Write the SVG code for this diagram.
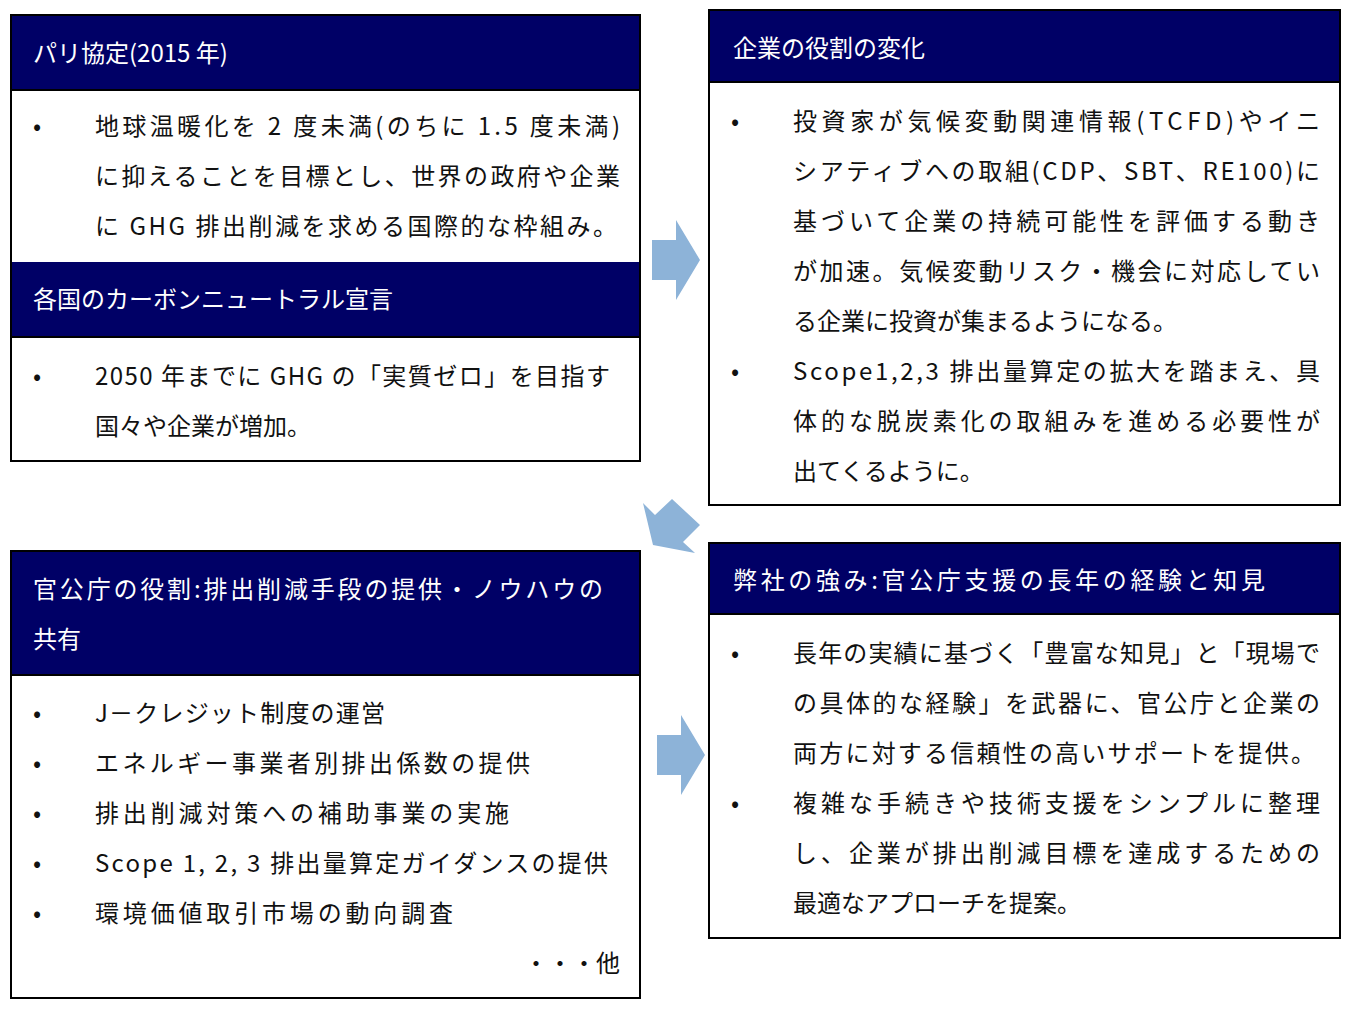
<svg xmlns="http://www.w3.org/2000/svg" width="1349" height="1021" viewBox="0 0 1349 1021">
<style>
.box{fill:#fff;stroke:#000;stroke-width:2}
.hd{fill:#000066}
.sep{stroke:#000;stroke-width:2}
text{font-family:"Noto Sans CJK JP","Noto Sans",sans-serif;font-size:24px;fill:#111}
.ht{fill:#fff}
.arr{fill:#8db3d8}
</style>
<rect width="1349" height="1021" fill="#fff"/>
<g id="paris">
<rect class="box" x="11" y="15" width="629" height="446"/>
<rect class="hd" x="12" y="16" width="627" height="74"/>
<text class="ht" x="33" y="62">パリ協定(2015 年)</text>
<line class="sep" x1="11" y1="90" x2="640" y2="90"/>
<text x="33" y="135">•</text>
<text x="95" y="135" textLength="525" lengthAdjust="spacing">地球温暖化を 2 度未満(のちに 1.5 度未満)</text>
<text x="95" y="185" textLength="525" lengthAdjust="spacing">に抑えることを目標とし、世界の政府や企業</text>
<text x="95" y="235" textLength="522" lengthAdjust="spacing">に GHG 排出削減を求める国際的な枠組み。</text>
</g>
<g id="carbon">
<rect class="hd" x="12" y="262" width="627" height="75"/>
<text class="ht" x="33" y="308">各国のカーボンニュートラル宣言</text>
<line class="sep" x1="11" y1="337" x2="640" y2="337"/>
<text x="33" y="385">•</text>
<text x="95" y="385" textLength="515" lengthAdjust="spacing">2050 年までに GHG の「実質ゼロ」を目指す</text>
<text x="95" y="435">国々や企業が増加。</text>
</g>
<g id="role">
<rect class="box" x="709" y="10" width="631" height="495"/>
<rect class="hd" x="710" y="11" width="629" height="71"/>
<text class="ht" x="733" y="57">企業の役割の変化</text>
<line class="sep" x1="709" y1="82" x2="1340" y2="82"/>
<text x="731" y="130">•</text>
<text x="793" y="130" textLength="527" lengthAdjust="spacing">投資家が気候変動関連情報(TCFD)やイニ</text>
<text x="793" y="180" textLength="527" lengthAdjust="spacing">シアティブへの取組(CDP、SBT、RE100)に</text>
<text x="793" y="230" textLength="527" lengthAdjust="spacing">基づいて企業の持続可能性を評価する動き</text>
<text x="793" y="280" textLength="527" lengthAdjust="spacing">が加速。気候変動リスク・機会に対応してい</text>
<text x="793" y="330">る企業に投資が集まるようになる。</text>
<text x="731" y="380">•</text>
<text x="793" y="380" textLength="527" lengthAdjust="spacing">Scope1,2,3 排出量算定の拡大を踏まえ、具</text>
<text x="793" y="430" textLength="527" lengthAdjust="spacing">体的な脱炭素化の取組みを進める必要性が</text>
<text x="793" y="480">出てくるように。</text>
</g>
<g id="strength">
<rect class="box" x="709" y="543" width="631" height="395"/>
<rect class="hd" x="710" y="544" width="629" height="70"/>
<text class="ht" x="733" y="589" textLength="532" lengthAdjust="spacing">弊社の強み:官公庁支援の長年の経験と知見</text>
<line class="sep" x1="709" y1="614" x2="1340" y2="614"/>
<text x="731" y="662">•</text>
<text x="793" y="662" textLength="527" lengthAdjust="spacing">長年の実績に基づく「豊富な知見」と「現場で</text>
<text x="793" y="712" textLength="527" lengthAdjust="spacing">の具体的な経験」を武器に、官公庁と企業の</text>
<text x="793" y="762" textLength="522" lengthAdjust="spacing">両方に対する信頼性の高いサポートを提供。</text>
<text x="731" y="812">•</text>
<text x="793" y="812" textLength="527" lengthAdjust="spacing">複雑な手続きや技術支援をシンプルに整理</text>
<text x="793" y="862" textLength="527" lengthAdjust="spacing">し、企業が排出削減目標を達成するための</text>
<text x="793" y="912">最適なアプローチを提案。</text>
</g>
<g id="gov">
<rect class="box" x="11" y="551" width="629" height="447"/>
<rect class="hd" x="12" y="552" width="627" height="123"/>
<text class="ht" x="33" y="598" textLength="570" lengthAdjust="spacing">官公庁の役割:排出削減手段の提供・ノウハウの</text>
<text class="ht" x="33" y="648">共有</text>
<line class="sep" x1="11" y1="675" x2="640" y2="675"/>
<text x="33" y="722">•</text><text x="95" y="722" textLength="290" lengthAdjust="spacing">J－クレジット制度の運営</text>
<text x="33" y="772">•</text><text x="95" y="772" textLength="435" lengthAdjust="spacing">エネルギー事業者別排出係数の提供</text>
<text x="33" y="822">•</text><text x="95" y="822" textLength="414" lengthAdjust="spacing">排出削減対策への補助事業の実施</text>
<text x="33" y="872">•</text><text x="95" y="872" textLength="513" lengthAdjust="spacing">Scope 1, 2, 3 排出量算定ガイダンスの提供</text>
<text x="33" y="922">•</text><text x="95" y="922" textLength="358" lengthAdjust="spacing">環境価値取引市場の動向調査</text>
<text x="620" y="972" text-anchor="end">・・・他</text>
</g>
<g id="connectors">
<polygon class="arr" points="652,240 676,240 676,220 700,260 676,300 676,280 652,280"/>
<polygon class="arr" points="657,735 681,735 681,715 705,755 681,795 681,775 657,775"/>
<polygon class="arr" points="643,503 655,515 672,499 700,525 683,542 695,553 653,545"/>
</g>
</svg>
